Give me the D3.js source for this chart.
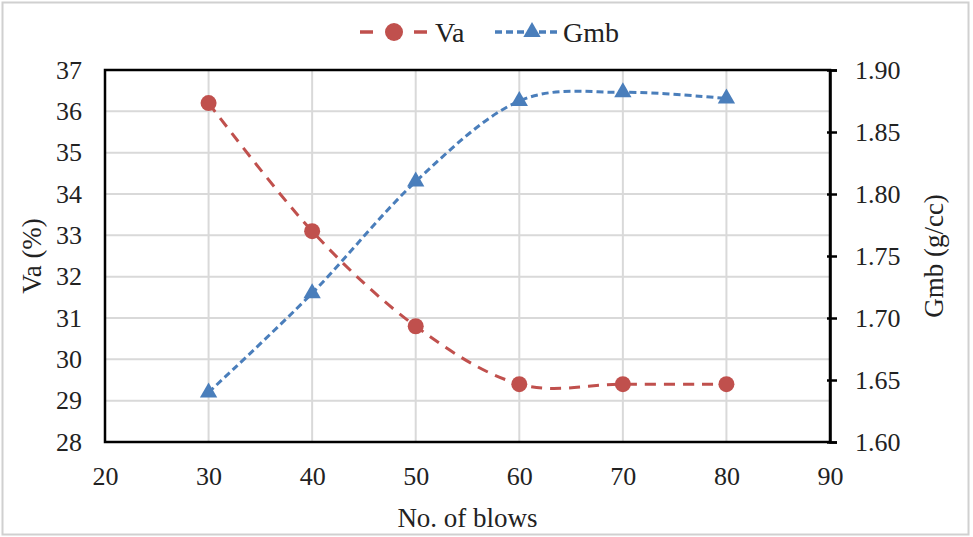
<!DOCTYPE html>
<html>
<head>
<meta charset="utf-8">
<script src="https://cdn.jsdelivr.net/npm/d3@7"></script>
<style>
  body { margin: 0; background: #fff; }
  svg text { font-family: "Liberation Serif", "Times New Roman", serif; fill: #222; }
</style>
</head>
<body>
<svg id="canvas" width="973" height="537"></svg>
<script>
// data
let blows = [30, 40, 50, 60, 70, 80];
let vaValues = [36.2, 33.1, 30.8, 29.4, 29.4, 29.4];
let gmbValues = [1.64, 1.72, 1.81, 1.875, 1.882, 1.877];
let xTicks = [20, 30, 40, 50, 60, 70, 80, 90];
let vaTicks = [28, 29, 30, 31, 32, 33, 34, 35, 36, 37];
let gmbTicks = [1.60, 1.65, 1.70, 1.75, 1.80, 1.85, 1.90];

let redColor = '#c0504d';
let blueColor = '#4a7ebb';
let serif = '"Liberation Serif", "Times New Roman", serif';

let margin = { left: 105, right: 143, top: 70, bottom: 95 };
let width = 973, height = 537;

let canvas = d3.select('#canvas');

// outer chart frame
canvas.append('rect')
  .attr('x', 2.5).attr('y', 2.5)
  .attr('width', width - 7).attr('height', height - 5)
  .attr('fill', '#fff')
  .attr('stroke', '#d0d0d0')
  .attr('stroke-width', 2);

let xScale = d3.scaleLinear().domain([20, 90]).range([margin.left, width - margin.right]);
let yLeft = d3.scaleLinear().domain([28, 37]).range([height - margin.bottom, margin.top]);
let yRight = d3.scaleLinear().domain([1.60, 1.90]).range([height - margin.bottom, margin.top]);

// gridlines
canvas.append('g').selectAll('line')
  .data(vaTicks.slice(1, -1))
  .enter().append('line')
  .attr('x1', xScale(20)).attr('x2', xScale(90))
  .attr('y1', d => yLeft(d)).attr('y2', d => yLeft(d))
  .attr('stroke', '#d9d9d9').attr('stroke-width', 2);

canvas.append('g').selectAll('line')
  .data(xTicks.slice(1, -1))
  .enter().append('line')
  .attr('x1', d => xScale(d)).attr('x2', d => xScale(d))
  .attr('y1', yLeft(28)).attr('y2', yLeft(37))
  .attr('stroke', '#d9d9d9').attr('stroke-width', 2);

// plot box
canvas.append('rect')
  .attr('x', xScale(20)).attr('y', yLeft(37))
  .attr('width', xScale(90) - xScale(20))
  .attr('height', yLeft(28) - yLeft(37))
  .attr('fill', 'none')
  .attr('stroke', '#000')
  .attr('stroke-width', 2.5);

// bottom axis labels
let xAxis = d3.axisBottom(xScale).tickValues(xTicks).tickSize(0).tickPadding(25);
let gx = canvas.append('g')
  .attr('transform', 'translate(0,' + yLeft(28) + ')')
  .call(xAxis)
  .attr('font-family', serif).attr('font-size', 26);
gx.select('.domain').remove();
gx.selectAll('text').attr('fill', '#222');

// left axis labels
let leftAxis = d3.axisLeft(yLeft).tickValues(vaTicks).tickSize(0).tickPadding(23);
let gl = canvas.append('g')
  .attr('transform', 'translate(' + xScale(20) + ',0)')
  .call(leftAxis)
  .attr('font-family', serif).attr('font-size', 26);
gl.select('.domain').remove();
gl.selectAll('text').attr('fill', '#222');

// right axis with crossing ticks
let rightAxis = d3.axisRight(yRight).tickValues(gmbTicks).tickSize(7).tickPadding(18)
  .tickFormat(d3.format('.2f'));
let gr = canvas.append('g')
  .attr('transform', 'translate(' + xScale(90) + ',0)')
  .call(rightAxis)
  .attr('font-family', serif).attr('font-size', 26);
gr.select('.domain').attr('stroke-width', 2.5);
gr.selectAll('.tick line').attr('x1', -3).attr('stroke-width', 2.5);
gr.selectAll('text').attr('fill', '#222');

// axis titles
canvas.append('text')
  .attr('transform', 'translate(41,' + yLeft(32.5) + ') rotate(-90)')
  .attr('text-anchor', 'middle')
  .attr('font-size', 27)
  .text('Va (%)');

canvas.append('text')
  .attr('transform', 'translate(943,' + yLeft(32.5) + ') rotate(-90)')
  .attr('text-anchor', 'middle')
  .attr('font-size', 27)
  .text('Gmb (g/cc)');

canvas.append('text')
  .attr('x', (xScale(20) + xScale(90)) / 2)
  .attr('y', 527)
  .attr('text-anchor', 'middle')
  .attr('font-size', 27)
  .text('No. of blows');

// series lines
let vaPoints = blows.map((b, i) => [b, vaValues[i]]);
let gmbPoints = blows.map((b, i) => [b, gmbValues[i]]);

let vaLine = d3.line()
  .x(d => xScale(d[0])).y(d => yLeft(d[1]))
  .curve(d3.curveCardinal.tension(0));
let gmbLine = d3.line()
  .x(d => xScale(d[0])).y(d => yRight(d[1]))
  .curve(d3.curveCardinal.tension(0));

canvas.append('path')
  .attr('d', vaLine(vaPoints))
  .attr('fill', 'none')
  .attr('stroke', redColor)
  .attr('stroke-width', 3)
  .attr('stroke-dasharray', '11,8');

canvas.append('path')
  .attr('d', gmbLine(gmbPoints))
  .attr('fill', 'none')
  .attr('stroke', blueColor)
  .attr('stroke-width', 3)
  .attr('stroke-dasharray', '7,4');

// markers
canvas.append('g').selectAll('circle')
  .data(vaPoints)
  .enter().append('circle')
  .attr('cx', d => xScale(d[0]))
  .attr('cy', d => yLeft(d[1]))
  .attr('r', 8)
  .attr('fill', redColor);

let triangle = d3.symbol().type(d3.symbolTriangle).size(130);
canvas.append('g').selectAll('path')
  .data(gmbPoints)
  .enter().append('path')
  .attr('d', triangle)
  .attr('transform', d => 'translate(' + xScale(d[0]) + ',' + yRight(d[1]) + ')')
  .attr('fill', blueColor);

// legend
let legendY = 32;
let legend = canvas.append('g');
legend.append('line')
  .attr('x1', 360).attr('x2', 427)
  .attr('y1', legendY).attr('y2', legendY)
  .attr('stroke', redColor).attr('stroke-width', 3.5)
  .attr('stroke-dasharray', '13,41');
legend.append('circle')
  .attr('cx', 394).attr('cy', legendY).attr('r', 9)
  .attr('fill', redColor);
legend.append('text')
  .attr('x', 435).attr('y', legendY + 10)
  .attr('font-size', 28)
  .text('Va');

legend.append('line')
  .attr('x1', 495).attr('x2', 559)
  .attr('y1', legendY).attr('y2', legendY)
  .attr('stroke', blueColor).attr('stroke-width', 3.5)
  .attr('stroke-dasharray', '7,4');
legend.append('path')
  .attr('d', triangle)
  .attr('transform', 'translate(532,' + legendY + ')')
  .attr('fill', blueColor);
legend.append('text')
  .attr('x', 563).attr('y', legendY + 10)
  .attr('font-size', 28)
  .text('Gmb');
</script>
</body>
</html>
